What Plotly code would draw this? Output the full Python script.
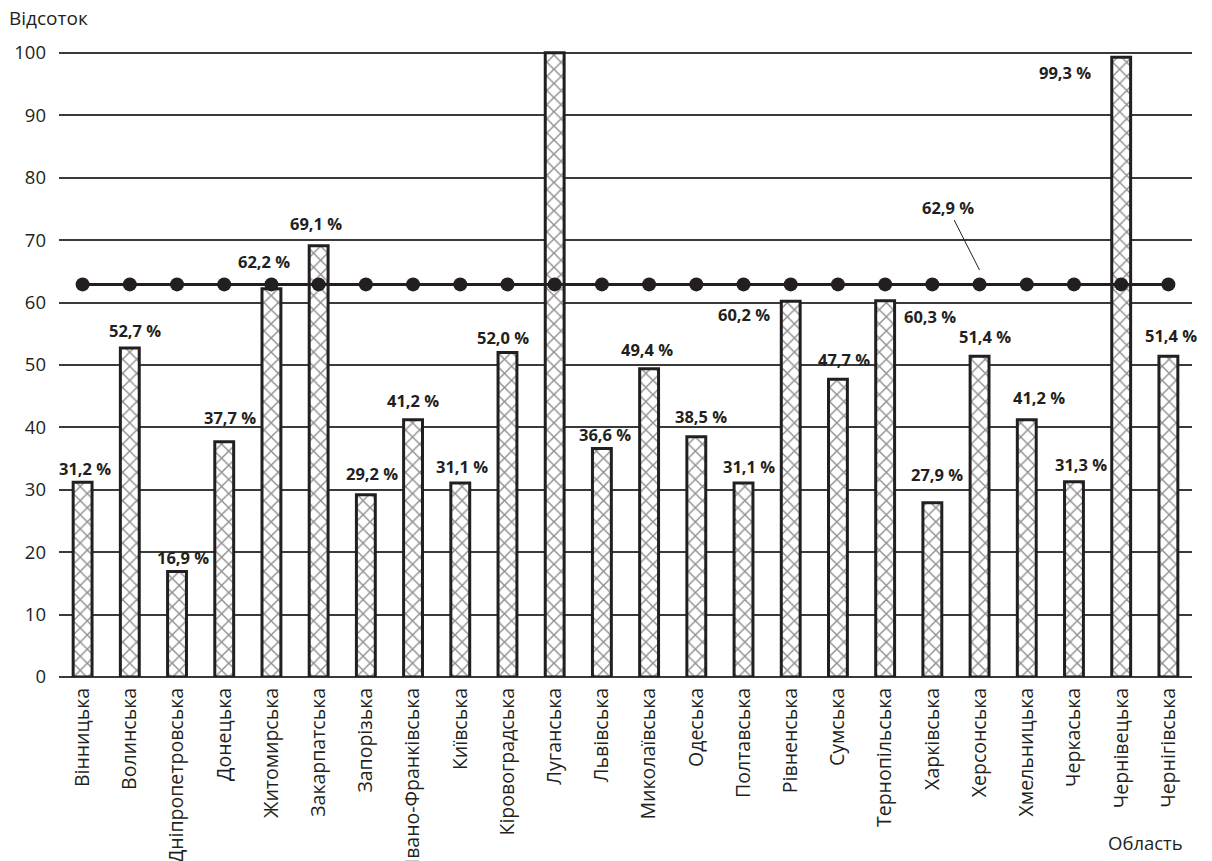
import plotly.graph_objects as go

regions = ["Вінницька", "Волинська", "Дніпропетровська", "Донецька", "Житомирська",
           "Закарпатська", "Запорізька", "Івано-Франківська", "Київська", "Кіровоградська",
           "Луганська", "Львівська", "Миколаївська", "Одеська", "Полтавська", "Рівненська",
           "Сумська", "Тернопільська", "Харківська", "Херсонська", "Хмельницька",
           "Черкаська", "Чернівецька", "Чернігівська"]
values = [31.2, 52.7, 16.9, 37.7, 62.2, 69.1, 29.2, 41.2, 31.1, 52.0, 100.0, 36.6,
          49.4, 38.5, 31.1, 60.2, 47.7, 60.3, 27.9, 51.4, 41.2, 31.3, 99.3, 51.4]
value_labels = ["31,2 %", "52,7 %", "16,9 %", "37,7 %", "62,2 %", "69,1 %", "29,2 %",
                "41,2 %", "31,1 %", "52,0 %", "", "36,6 %", "49,4 %", "38,5 %", "31,1 %",
                "60,2 %", "47,7 %", "60,3 %", "27,9 %", "51,4 %", "41,2 %", "31,3 %",
                "99,3 %", "51,4 %"]
average = 62.9
average_label = "62,9 %"
average_values = [average] * len(regions)
y_ticks = [0, 10, 20, 30, 40, 50, 60, 70, 80, 90, 100]

# label offsets in pixels (x, y) relative to the bar top
label_dx = [2, 5, 6, 6, -7, -3, 6, 0, 2, -4, 0, 3, -2, 5, 5, -47, 6, 45, 5, 5, 12, 7, -56, 3]
label_dy = [14, 18, 14, 24, 27, 22, 21, 19, 16, 15, 0, 14, 19, 20, 16, -13, 20, -16, 28, 20, 22, 17, -15, 21]

FONT = "Open Sans"
INK = "#231f20"

fig = go.Figure()
fig.add_trace(go.Bar(
    x=regions, y=values, width=0.4,
    marker=dict(color="white", line=dict(color=INK, width=3),
                pattern=dict(shape="x", fgcolor=INK, bgcolor="white", size=10, solidity=0.27)),
    showlegend=False, hoverinfo="skip",
))
fig.add_trace(go.Scatter(
    x=regions, y=average_values, mode="lines+markers",
    line=dict(color=INK, width=3), marker=dict(color=INK, size=14),
    showlegend=False, hoverinfo="skip",
))

for r, v, t, dx, dy in zip(regions, values, value_labels, label_dx, label_dy):
    if not t:
        continue
    fig.add_annotation(x=r, y=v, text=f"<b>{t}</b>", showarrow=False,
                       xanchor="center", yanchor="middle", xshift=dx, yshift=dy,
                       font=dict(family=FONT, size=16.5, color=INK))

fig.add_annotation(x="Херсонська", y=65.2, text=f"<b>{average_label}</b>", showarrow=True,
                   arrowhead=0, arrowwidth=1, arrowcolor=INK, ax=-32, ay=-63, standoff=0,
                   font=dict(family=FONT, size=16.5, color=INK))

fig.add_annotation(xref="paper", yref="paper", x=-0.046, y=1.0, yshift=23,
                   text="Відсоток", showarrow=False, xanchor="left", yanchor="middle",
                   font=dict(family=FONT, size=19, color=INK))
fig.add_annotation(xref="paper", yref="paper", x=0.9935, y=0, yshift=-165,
                   text="Область", showarrow=False, xanchor="right", yanchor="middle",
                   font=dict(family=FONT, size=18.5, color=INK))

fig.update_layout(
    width=1212, height=861,
    margin=dict(l=59, r=20, t=41, b=184),
    paper_bgcolor="white", plot_bgcolor="white",
    font=dict(family=FONT, color=INK),
    bargap=0.6,
)
fig.update_xaxes(range=[-0.5, 23.5], tickangle=-90, showgrid=False, showline=False,
                 zeroline=False, ticks="", automargin=False, ticklabelstandoff=6,
                 tickfont=dict(family=FONT, size=19.5, color=INK))
fig.update_yaxes(range=[0, 101.9], tickvals=y_ticks, showgrid=True, gridcolor="#3a3a3a",
                 gridwidth=1.8, zeroline=True, zerolinecolor="#3a3a3a", zerolinewidth=2,
                 showline=False, ticks="", automargin=False, ticklabelstandoff=12,
                 tickfont=dict(family=FONT, size=18.5, color=INK))

fig.write_html("out.html", config={"displayModeBar": False},
               post_script="document.body.style.margin='0';")
